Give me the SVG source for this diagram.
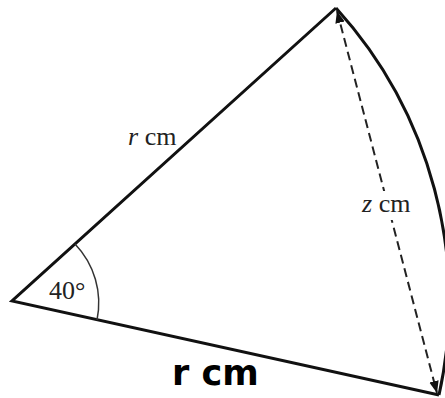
<svg xmlns="http://www.w3.org/2000/svg" width="445" height="398" viewBox="0 0 445 398">
<style>
.edge{fill:none;stroke:#111;stroke-width:3;stroke-linejoin:miter}
.ang{fill:none;stroke:#333;stroke-width:1.5}
.chord{fill:none;stroke:#222;stroke-width:2;stroke-dasharray:9 5}
.lbl{font-family:"Liberation Serif",serif;font-size:26px;fill:#222}
.hand{font-family:"DejaVu Sans",sans-serif;font-size:35px;font-weight:bold;fill:#000}
</style>
<defs>
<marker id="ah" viewBox="0 0 10 10" refX="10" refY="5" markerWidth="6" markerHeight="6" orient="auto-start-reverse" markerUnits="strokeWidth">
<path d="M0,1 L10,5 L0,9 z" fill="#111"/>
</marker>
</defs>
<rect width="445" height="398" fill="#fff"/>
<g id="sector">
<path class="edge" d="M336,8 L12,301 L439,395"/>
<path class="edge" d="M336,8 A437,437 0 0 1 439,395"/>
</g>
<g id="angle">
<path class="ang" d="M75,244 A85,85 0 0 1 97,320"/>
<text class="lbl" x="49" y="299">40°</text>
</g>
<g id="connectors">
<line class="chord" x1="337" y1="11" x2="437" y2="393" marker-start="url(#ah)" marker-end="url(#ah)"/>
</g>
<g id="labels">
<text class="lbl" x="128" y="145"><tspan font-style="italic">r</tspan> cm</text>
<rect x="359" y="191" width="54" height="29" fill="#fff"/>
<text class="lbl" x="362" y="212"><tspan font-style="italic">z</tspan> cm</text>
<text class="hand" x="172" y="385">r cm</text>
</g>
</svg>
